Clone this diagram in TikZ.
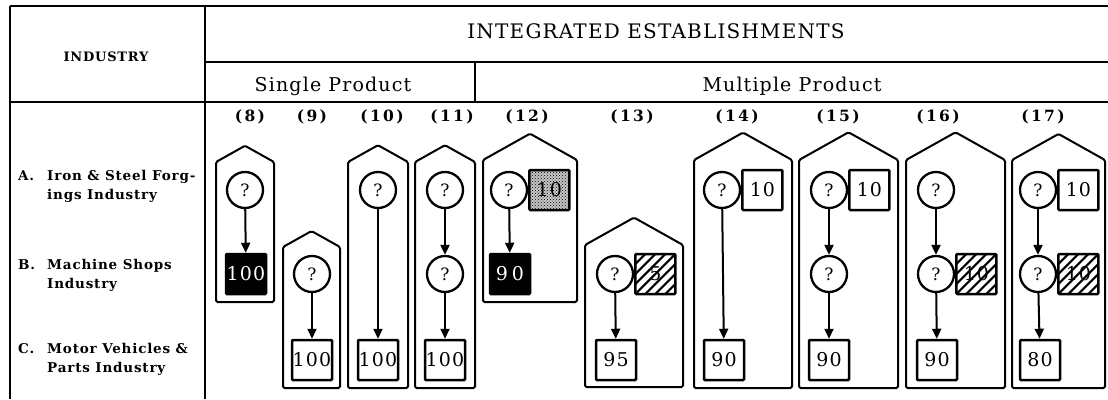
\documentclass[tikz,border=0pt]{standalone}
\usepackage{fontspec}
\setmainfont{DejaVu Serif}
\newfontfamily\trk{DejaVu Serif}[LetterSpace=6]
\newfontfamily\trkw{DejaVu Serif}[LetterSpace=15]
\usetikzlibrary{arrows.meta,patterns}
\newcommand\pentbox[4]{%
  \draw[pentline] (#1,#4) -- (#1,#3) -- ({(#1+#2)/2},{#3-0.56*(#2-#1)/2}) -- (#2,#3) -- (#2,#4) -- cycle;}
\tikzset{
  tbl/.style={line width=2.2pt},
  pentline/.style={draw, line width=2pt, rounded corners=1.5pt},
  circ/.style={circle, draw, line width=2.3pt, minimum size=36pt, inner sep=0pt, fill=white,
    font=\trk\fontsize{17}{17}\selectfont},
  sq/.style={rectangle, draw, line width=2.5pt, minimum size=40pt, inner sep=0pt, rounded corners=1pt,
    font=\trk\fontsize{19}{19}\selectfont},
  blk/.style={sq, fill=black, text=white},
  hatchbox/.style={sq, path picture={
      \foreach \k in {-70,-60,...,40} {\draw[line width=2.2pt] ([xshift=\k pt]path picture bounding box.south west) -- ++(60pt,60pt);}}},
  dotbox/.style={sq, preaction={fill=black!22}, pattern=crosshatch dots},
  arr/.style={-{Triangle[length=10pt,width=9pt]}, line width=2pt},
  hdr/.style={font=\trk\fontsize{20}{22}\selectfont},
  sub/.style={font=\trk\fontsize{19}{21}\selectfont},
  colnum/.style={font=\trkw\bfseries\fontsize{15.5}{18}\selectfont},
  rowlbl/.style={font=\trk\bfseries\fontsize{13.5}{19}\selectfont, align=left, anchor=north west, inner sep=0pt},
}
\begin{document}
\begin{tikzpicture}[x=1pt,y=-1pt]
\useasboundingbox (0,0) rectangle (1108,399);
% table frame
\draw[tbl, line width=2.6pt] (10,6) -- (1108,6);
\draw[tbl] (10,6) -- (10,399);
\draw[tbl, line width=2.8pt] (205,6) -- (205,399);
\draw[tbl] (205,62) -- (1108,62);
\draw[tbl] (10,102) -- (1108,102);
\draw[tbl] (475,62) -- (475,102);
% headers
\node[font=\trk\bfseries\fontsize{13}{15}\selectfont] (hind) at (106,57) {INDUSTRY};
\node[hdr] (hint) at (656,31) {INTEGRATED ESTABLISHMENTS};
\node[sub] (hsing) at (333,86) {Single Product};
\node[sub] (hmult) at (792,86) {Multiple Product};
\foreach \n/\x in {8/250,9/312,10/382,11/452,12/527,13/632,14/737,15/838,16/938,17/1043}
  \node[colnum] (n\n) at (\x,117) {(\n)};
% row labels
\node[rowlbl] (la) at (18,170) {A.};
\node[rowlbl] (lat) at (47,170) {Iron \& Steel Forg-\\ings Industry};
\node[rowlbl] (lb) at (18,259) {B.};
\node[rowlbl] (lbt) at (47,259) {Machine Shops\\Industry};
\node[rowlbl] (lc) at (18,343) {C.};
\node[rowlbl] (lct) at (47,343) {Motor Vehicles \&\\Parts Industry};
% pentagons
\pentbox{216}{274}{162}{302}
\pentbox{283}{340}{247}{388}
\pentbox{348}{408}{162}{388}
\pentbox{415}{475}{162}{388}
\pentbox{483}{577}{160}{302}
\pentbox{585}{683}{245}{387}
\pentbox{694}{792}{160}{388}
\pentbox{799}{898}{160}{388}
\pentbox{906}{1005}{160}{388}
\pentbox{1012}{1105}{160}{388}
% (8)
\node[circ] (c8a) at (245,190) {?};
\node[blk] (b8) at (246,274) {100};
\draw[arr] (c8a) -- (b8);
% (9)
\node[circ] (c9b) at (312,274) {?};
\node[sq] (b9) at (312,360) {100};
\draw[arr] (c9b) -- (b9);
% (10)
\node[circ] (c10a) at (378,190) {?};
\node[sq] (b10) at (378,360) {100};
\draw[arr] (c10a) -- (b10);
% (11)
\node[circ] (c11a) at (445,190) {?};
\node[circ] (c11b) at (445,274) {?};
\node[sq] (b11) at (445,360) {100};
\draw[arr] (c11a) -- (c11b);
\draw[arr] (c11b) -- (b11);
% (12)
\node[circ] (c12a) at (509,190) {?};
\node[dotbox, anchor=west] (d12) at (c12a.east) {10};
\node[blk] (b12) at (510,274) {9\hspace{4pt}0};
\draw[arr] (c12a) -- (b12);
% (13)
\node[circ] (c13b) at (615,274) {?};
\node[hatchbox, anchor=west] (h13) at (c13b.east) {5};
\node[sq] (b13) at (616,360) {95};
\draw[arr] (c13b) -- (b13);
% (14)
\node[circ] (c14a) at (722,190) {?};
\node[sq, anchor=west] (s14) at (c14a.east) {10};
\node[sq] (b14) at (724,360) {90};
\draw[arr] (c14a) -- (b14);
% (15)
\node[circ] (c15a) at (829,190) {?};
\node[sq, anchor=west] (s15) at (c15a.east) {10};
\node[circ] (c15b) at (829,274) {?};
\node[sq] (b15) at (829,360) {90};
\draw[arr] (c15a) -- (c15b);
\draw[arr] (c15b) -- (b15);
% (16)
\node[circ] (c16a) at (936,190) {?};
\node[circ] (c16b) at (936,274) {?};
\node[hatchbox, anchor=west] (h16) at (c16b.east) {10};
\node[sq] (b16) at (937,360) {90};
\draw[arr] (c16a) -- (c16b);
\draw[arr] (c16b) -- (b16);
% (17)
\node[circ] (c17a) at (1038,190) {?};
\node[sq, anchor=west] (s17) at (c17a.east) {10};
\node[circ] (c17b) at (1038,274) {?};
\node[hatchbox, anchor=west] (h17) at (c17b.east) {10};
\node[sq] (b17) at (1040,360) {80};
\draw[arr] (c17a) -- (c17b);
\draw[arr] (c17b) -- (b17);
\end{tikzpicture}
\end{document}
